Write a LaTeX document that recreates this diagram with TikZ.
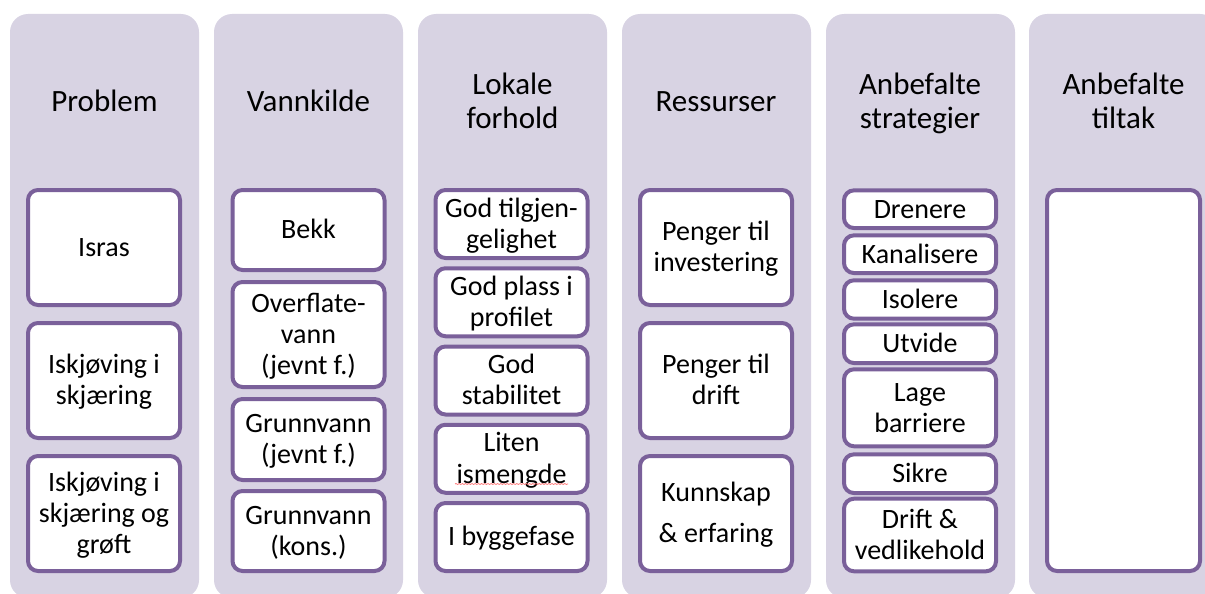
\documentclass[tikz,border=0pt]{standalone}
\usepackage{fontspec}
\setmainfont{Carlito}
\usetikzlibrary{decorations.pathmorphing}
\definecolor{colfill}{RGB}{216,211,227}
\definecolor{boxline}{RGB}{122,96,154}
\newcommand\st{\rule[-0.225em]{0pt}{1.08em}}
\begin{document}
\begin{tikzpicture}[x=1pt,y=-1pt,
  column/.style={fill=colfill, rounded corners=18pt},
  heading/.style={font=\fontsize{31}{34}\selectfont, align=center, inner sep=0pt},
  item/.style={draw=boxline, line width=4pt, fill=white, rounded corners=10pt,
    align=center, inner sep=0pt, font=\fontsize{28}{30}\selectfont, minimum width=152pt},
  squiggle/.style={draw=red!55!white, line width=0.7pt, decorate,
    decoration={snake, amplitude=0.5pt, segment length=3.2pt}},
]
\useasboundingbox (0,0) rectangle (1205,594);
\clip (0,0) rectangle (1205,594);
% columns
\path[column] (10,14) rectangle (199,598);
\path[column] (214,14) rectangle (403,598);
\path[column] (418,14) rectangle (607,598);
\path[column] (622,14) rectangle (811,598);
\path[column] (826,14) rectangle (1015,598);
\path[column] (1029,14) rectangle (1218,598);
% headings
\node[heading] (h1) at (104.5,102) {\st Problem};
\node[heading] (h2) at (308.5,102) {\st Vannkilde};
\node[heading] (h3) at (512.5,102) {\st Lokale\\\st forhold};
\node[heading] (h4) at (716,102) {\st Ressurser};
\node[heading] (h5) at (920,102) {\st Anbefalte\\\st strategier};
\node[heading] (h6) at (1123.5,102) {\st Anbefalte\\\st tiltak};
% column 1
\node[item, minimum height=115pt] (p1) at (104,247.5) {\st Isras};
\node[item, minimum height=115pt] (p2) at (104,380.5) {\st Iskjøving i\\\st skjæring};
\node[item, minimum height=115pt] (p3) at (104,513.5) {\st Iskjøving i\\\st skjæring og\\\st grøft};
% column 2
\node[item, minimum height=80pt] (v1) at (308.5,230) {\st Bekk};
\node[item, minimum height=105pt] (v2) at (308.5,334.5) {\st Overflate-\\\st vann\\\st (jevnt f.)};
\node[item, minimum height=81pt] (v3) at (308.5,439.5) {\st Grunnvann\\\st (jevnt f.)};
\node[item, minimum height=80pt] (v4) at (308.5,531) {\st Grunnvann\\\st (kons.)};
% column 3
\node[item, minimum height=68pt] (l1) at (511.5,224) {\st God tilgjen-\\\st gelighet};
\node[item, minimum height=68pt] (l2) at (511.5,302.25) {\st God plass i\\\st profilet};
\node[item, minimum height=68pt] (l3) at (511.5,380.5) {\st God\\\st stabilitet};
\node[item, minimum height=68pt] (l4) at (511.5,458.75) {\st Liten\\\st ismengde};
\node[item, minimum height=68pt] (l5) at (511.5,537) {\st I byggefase};
\path[squiggle] (455,484) -- (568,484);
% column 4
\node[item, minimum height=115pt] (r1) at (716,247.5) {\st Penger til\\\st investering};
\node[item, minimum height=115pt] (r2) at (716,380.5) {\st Penger til\\\st drift};
\node[item, minimum height=115pt, font=\fontsize{28}{41}\selectfont] (r3) at (716,513.5) {\st Kunnskap\\\st \& erfaring};
% column 5
\node[item, minimum height=37.7pt] (s1) at (920,209.2) {\st Drenere};
\node[item, minimum height=37.7pt] (s2) at (920,254.2) {\st Kanalisere};
\node[item, minimum height=38.4pt] (s3) at (920,299.5) {\st Isolere};
\node[item, minimum height=38.7pt] (s4) at (920,343.7) {\st Utvide};
\node[item, minimum height=77pt] (s5) at (920,407.8) {\st Lage\\\st barriere};
\node[item, minimum height=38.7pt] (s6) at (920,473.7) {\st Sikre};
\node[item, minimum height=72.6pt] (s7) at (920,535) {\st Drift \&\\\st vedlikehold};
% column 6
\node[item, minimum width=153pt, minimum height=381pt] (t1) at (1123.5,380.5) {};
\end{tikzpicture}
\end{document}
